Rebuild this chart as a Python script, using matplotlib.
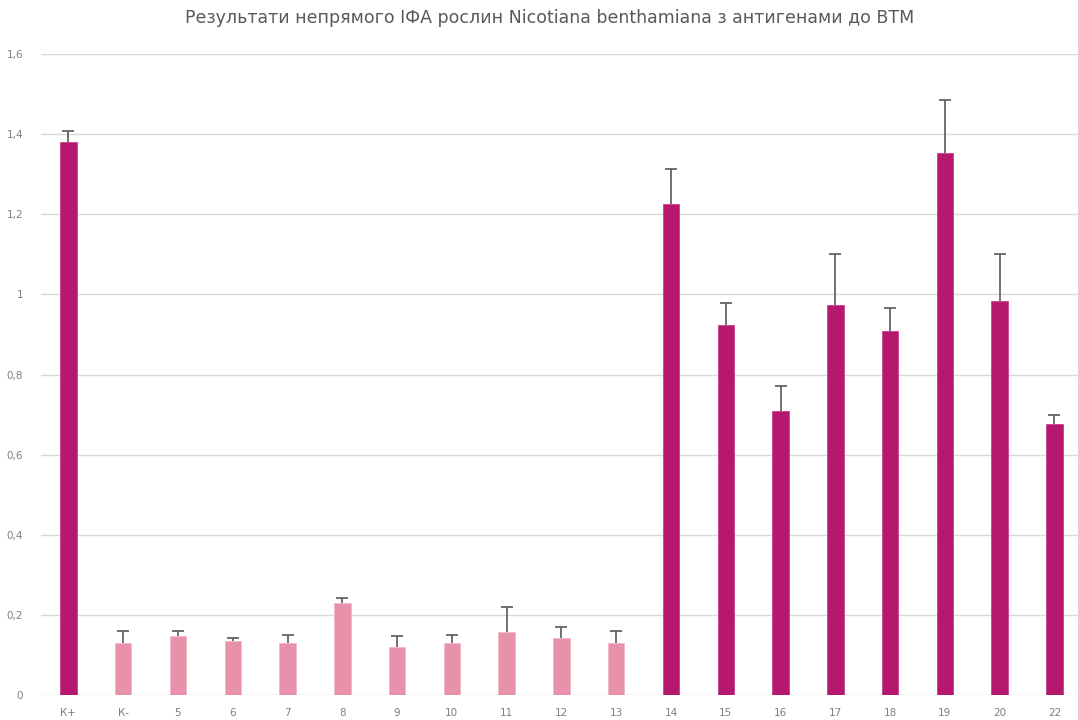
import matplotlib
matplotlib.use("Agg")
import matplotlib.pyplot as plt
import numpy as np

categories = ["К+", "К-", "5", "6", "7", "8", "9", "10", "11", "12", "13",
              "14", "15", "16", "17", "18", "19", "20", "22"]
values = [1.380, 0.130, 0.147, 0.135, 0.130, 0.230, 0.120, 0.130, 0.157, 0.142, 0.130,
          1.225, 0.924, 0.709, 0.974, 0.909, 1.354, 0.983, 0.677]
errors = [0.028, 0.030, 0.013, 0.007, 0.020, 0.012, 0.027, 0.020, 0.063, 0.028, 0.030,
          0.089, 0.054, 0.062, 0.126, 0.058, 0.130, 0.117, 0.022]
group = ["hi", "lo", "lo", "lo", "lo", "lo", "lo", "lo", "lo", "lo", "lo",
         "hi", "hi", "hi", "hi", "hi", "hi", "hi", "hi"]
yticks = [0, 0.2, 0.4, 0.6, 0.8, 1.0, 1.2, 1.4, 1.6]
ytick_labels = ["0", "0,2", "0,4", "0,6", "0,8", "1", "1,2", "1,4", "1,6"]
title = "Результати непрямого ІФА рослин Nicotiana benthamiana з антигенами до ВТМ"

dark = "#B5186E"
light = "#E891AB"
text_col = "#595959"
tick_col = "#7F7F7F"

fig = plt.figure(figsize=(10.78, 7.2), dpi=100)
ax = fig.add_axes([41/1078, 25/720, (1078-41)/1078, (695-54)/720])

x = np.arange(len(categories))
colors = [dark if g == "hi" else light for g in group]
edges = ["#C8408A" if g == "hi" else "#F2B8C8" for g in group]
ax.bar(x, values, width=0.30, color=colors, edgecolor=edges, linewidth=0.6, zorder=3)
eb = ax.errorbar(x, values, yerr=[np.zeros(len(errors)), errors], fmt="none",
                 ecolor=text_col, elinewidth=1.2, capsize=4, capthick=1.2, zorder=4)
eb[1][0].set_visible(False)

ax.set_ylim(0, 1.6)
ax.set_xlim(-0.5, len(categories) - 0.5 - 0.07)
ax.set_yticks(yticks)
ax.set_yticklabels(ytick_labels)
ax.set_xticks(x)
ax.set_xticklabels(categories)
ax.grid(axis="y", color="#D9D9D9", linewidth=1, zorder=0)
for s in ax.spines.values():
    s.set_visible(False)
ax.tick_params(axis="both", length=0, colors=tick_col, labelsize=7.5)
ax.tick_params(axis="y", pad=13)
ax.tick_params(axis="x", pad=9)

fig.text(550/1078, 1 - 18/720, title, ha="center", va="center", fontsize=12.5,
         color=text_col, family=["Liberation Sans Narrow", "DejaVu Sans"])

fig.savefig("out.png", dpi=100)
